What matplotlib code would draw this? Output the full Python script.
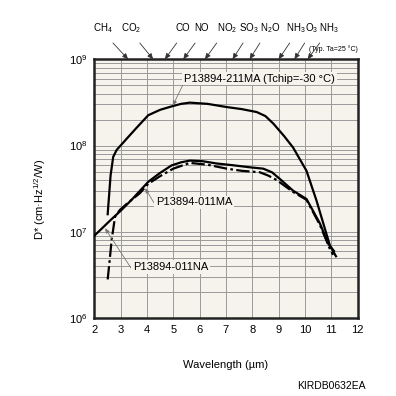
import numpy as np
import matplotlib
matplotlib.use("Agg")
import matplotlib.pyplot as plt
import matplotlib.transforms as mtransforms
from matplotlib.ticker import LogLocator, NullFormatter

# ---- data ----
wl_211ma = [2.51, 2.62, 2.72, 2.85, 3.23, 3.6, 4.05, 4.5, 4.94, 5.3, 5.63, 6.3, 7.03, 7.6, 8.17, 8.5, 8.8, 9.2, 9.55, 10.06, 10.44, 10.95, 11.18]
d_211ma = [1.6e7, 4.5e7, 7.4e7, 8.9e7, 1.2e8, 1.6e8, 2.25e8, 2.6e8, 2.85e8, 3.05e8, 3.15e8, 3.05e8, 2.8e8, 2.65e8, 2.45e8, 2.2e8, 1.8e8, 1.3e8, 9.5e7, 5.1e7, 2.3e7, 6.9e6, 5.2e6]

wl_011na = [2.0, 2.3, 2.6, 3.0, 3.42, 4.05, 4.49, 4.94, 5.3, 5.63, 6.1, 6.65, 7.3, 7.91, 8.42, 8.75, 9.05, 9.55, 10.06, 10.57, 10.88, 11.1]
d_011na = [9.0e6, 1.1e7, 1.35e7, 1.75e7, 2.35e7, 3.8e7, 4.8e7, 5.9e7, 6.4e7, 6.7e7, 6.6e7, 6.2e7, 5.9e7, 5.6e7, 5.4e7, 4.9e7, 4.1e7, 3.0e7, 2.4e7, 1.25e7, 7.3e6, 6.0e6]

wl_011ma = [2.51, 2.58, 2.66, 2.79, 2.98, 3.3, 3.73, 4.05, 4.49, 5.0, 5.63, 6.3, 7.03, 7.6, 8.29, 8.6, 8.92, 9.55, 10.06, 10.57, 10.95, 11.07]
d_011ma = [2.8e6, 4.5e6, 8.0e6, 1.5e7, 1.8e7, 2.2e7, 2.8e7, 3.6e7, 4.4e7, 5.4e7, 6.3e7, 6.0e7, 5.4e7, 5.1e7, 4.9e7, 4.5e7, 4.0e7, 2.9e7, 2.35e7, 1.2e7, 6.3e6, 5.4e6]

gas_names = ['CH$_4$', 'CO$_2$', 'CO', 'NO', 'NO$_2$', 'SO$_3$', 'N$_2$O', 'NH$_3$', 'O$_3$', 'NH$_3$']
gas_wl = [3.29, 4.24, 4.68, 5.38, 6.2, 7.25, 7.9, 9.0, 9.6, 10.1]

x_ticks = [2, 3, 4, 5, 6, 7, 8, 9, 10, 11, 12]

# ---- layout ----
gas_label_x = [2.34, 3.39, 5.36, 6.08, 7.03, 7.87, 8.70, 9.66, 10.25, 10.92]
gas_leader_x = [2.71, 3.73, 5.13, 5.83, 6.65, 7.65, 8.29, 9.42, 9.99, 10.56]

bg = '#f5f3ec'
grid_c = '#9a9a9a'
fs = 8

plt.rcParams['font.family'] = ['Liberation Sans', 'DejaVu Sans']
plt.rcParams['mathtext.fontset'] = 'custom'
plt.rcParams['mathtext.rm'] = 'Liberation Sans'
plt.rcParams['mathtext.it'] = 'Liberation Sans:italic'
plt.rcParams['mathtext.bf'] = 'Liberation Sans:bold'

fig = plt.figure(figsize=(3.96, 3.96), dpi=100)
ax = fig.add_axes([0.238, 0.197, 0.665, 0.653])
ax.set_facecolor(bg)

ax.plot(wl_211ma, d_211ma, color='black', lw=1.6, solid_joinstyle='round', zorder=3)
ax.plot(wl_011na, d_011na, color='black', lw=1.6, solid_joinstyle='round', zorder=3)
ax.plot(wl_011ma, d_011ma, color='black', lw=1.6, dashes=(6, 1.5, 1.2, 1.5), zorder=3)

ax.set_yscale('log')
ax.set_xlim(2, 12)
ax.set_ylim(1e6, 1e9)
ax.set_xticks(x_ticks)
ax.set_xticklabels([str(t) for t in x_ticks], fontsize=fs)
ax.yaxis.set_major_locator(LogLocator(base=10, numticks=10))
ax.yaxis.set_minor_locator(LogLocator(base=10, subs=np.arange(2, 10), numticks=20))
ax.yaxis.set_minor_formatter(NullFormatter())
ax.tick_params(axis='both', which='both', length=0, labelsize=fs, pad=5)
ax.grid(True, which='major', axis='x', color=grid_c, lw=0.7)
ax.grid(True, which='both', axis='y', color=grid_c, lw=0.7)
ax.set_axisbelow(True)
for s in ax.spines.values():
    s.set_linewidth(1.8)
    s.set_color('#222222')

ax.set_xlabel('Wavelength (µm)', fontsize=fs)
ax.xaxis.set_label_coords(0.5, -0.163)
ax.set_ylabel('D* (cm·Hz$^{1/2}$/W)', fontsize=fs)
ax.yaxis.set_label_coords(-0.176, 0.46)

# gas annotations on top
blend = mtransforms.blended_transform_factory(ax.transData, fig.transFigure)
label_y = 1 - 28 / 396
start_y = 1 - 43 / 396
for name, wl, lx, sx in zip(gas_names, gas_wl, gas_label_x, gas_leader_x):
    ax.text(lx, label_y, name, transform=blend, ha='center', va='center', fontsize=7)
    ax.annotate('', xy=(wl, 1e9), xycoords='data',
                xytext=(sx, start_y), textcoords=('data', 'figure fraction'),
                arrowprops=dict(arrowstyle='-|>,head_length=0.35,head_width=0.15',
                                color='#333333', lw=0.6, shrinkA=0, shrinkB=0),
                annotation_clip=False)

fig.text(0.903, 1 - 49 / 396, '(Typ. Ta=25 °C)', ha='right', va='center', fontsize=5.0)

# curve labels
box = dict(boxstyle='square,pad=0.15', facecolor=bg, edgecolor='none')
arrow = dict(arrowstyle='-|>,head_length=0.35,head_width=0.15', color='#777777', lw=0.6,
             shrinkA=0, shrinkB=0, relpos=(0, 0.1))
ax.annotate('P13894-211MA (Tchip=-30 °C)', xy=(4.98, 2.9e8), xytext=(5.41, 6.0e8),
            fontsize=fs, ha='left', va='center', bbox=box, arrowprops=arrow, zorder=5)
ax.annotate('P13894-011MA', xy=(3.93, 3.2e7), xytext=(4.35, 2.2e7),
            fontsize=fs, ha='left', va='center', bbox=box, arrowprops=arrow, zorder=5)
ax.annotate('P13894-011NA', xy=(2.41, 1.1e7), xytext=(3.47, 3.9e6),
            fontsize=fs, ha='left', va='center', bbox=box, arrowprops=arrow, zorder=5)

fig.text(0.924, 1 - 386 / 396, 'KIRDB0632EA', ha='right', va='center', fontsize=7.5)

fig.savefig('out.png', dpi=100, facecolor='white')
